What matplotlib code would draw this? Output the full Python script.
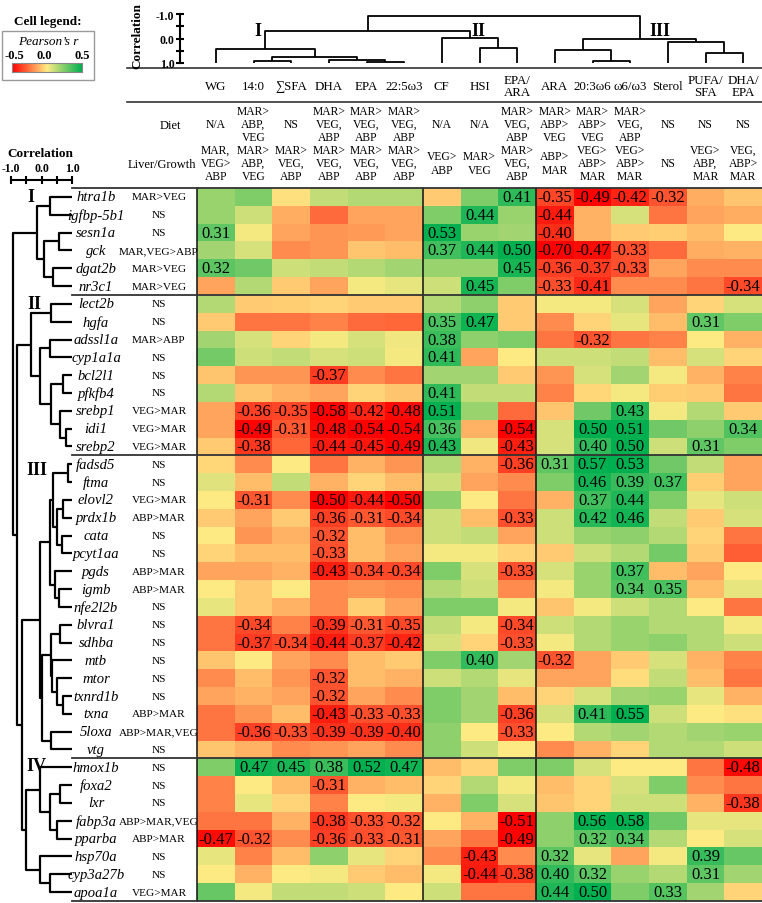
import numpy as np
import matplotlib.pyplot as plt
import matplotlib.transforms as mtransforms
from matplotlib.colors import LinearSegmentedColormap
from matplotlib.patches import Rectangle

plt.rcParams['font.family'] = ['Liberation Serif', 'DejaVu Serif']

# ---- data ----
traits = ['WG', '14:0', '∑SFA', 'DHA', 'EPA', '22:5ω3', 'CF', 'HSI', 'EPA/\nARA',
          'ARA', '20:3ω6', 'ω6/ω3', 'Sterol', 'PUFA/\nSFA', 'DHA/\nEPA']
diet = ['N/A', 'MAR>\nABP,\nVEG', 'NS', 'MAR>\nVEG,\nABP', 'MAR>\nVEG,\nABP', 'MAR>\nVEG,\nABP',
        'N/A', 'N/A', 'MAR>\nVEG,\nABP', 'MAR>\nABP>\nVEG', 'MAR>\nABP>\nVEG', 'MAR>\nVEG,\nABP',
        'NS', 'NS', 'NS']
liver_growth = ['MAR,\nVEG>\nABP', 'MAR>\nABP,\nVEG', 'MAR>\nVEG,\nABP', 'MAR>\nVEG,\nABP',
                'MAR>\nVEG,\nABP', 'MAR>\nVEG,\nABP', 'VEG>\nABP', 'MAR>\nVEG', 'MAR>\nVEG,\nABP',
                'ABP>\nMAR', 'VEG>\nABP>\nMAR', 'VEG>\nABP>\nMAR', 'NS', 'VEG>\nABP,\nMAR',
                'VEG,\nABP>\nMAR']

genes = ['htra1b', 'igfbp-5b1', 'sesn1a', 'gck', 'dgat2b', 'nr3c1',
         'lect2b', 'hgfa', 'adssl1a', 'cyp1a1a', 'bcl2l1', 'pfkfb4', 'srebp1', 'idi1', 'srebp2',
         'fadsd5', 'ftma', 'elovl2', 'prdx1b', 'cata', 'pcyt1aa', 'pgds', 'igmb', 'nfe2l2b',
         'blvra1', 'sdhba', 'mtb', 'mtor', 'txnrd1b', 'txna', '5loxa', 'vtg',
         'hmox1b', 'foxa2', 'lxr', 'fabp3a', 'pparba', 'hsp70a', 'cyp3a27b', 'apoa1a']
gene_effect = ['MAR>VEG', 'NS', 'NS', 'MAR,VEG>ABP', 'MAR>VEG', 'MAR>VEG',
               'NS', 'NS', 'MAR>ABP', 'NS', 'NS', 'NS', 'VEG>MAR', 'VEG>MAR', 'VEG>MAR',
               'NS', 'NS', 'VEG>MAR', 'ABP>MAR', 'NS', 'NS', 'ABP>MAR', 'ABP>MAR', 'NS',
               'NS', 'NS', 'NS', 'NS', 'NS', 'ABP>MAR', 'ABP>MAR,VEG', 'NS',
               'NS', 'NS', 'NS', 'ABP>MAR,VEG', 'ABP>MAR', 'NS', 'NS', 'VEG>MAR']

r_values = np.array([
    [0.20, 0.25, -0.02, 0.12, 0.15, 0.15, -0.07, 0.25, 0.41, -0.35, -0.49, -0.42, -0.32, -0.13, -0.08],
    [0.20, 0.10, -0.13, -0.27, -0.15, -0.15, 0.25, 0.44, 0.20, -0.44, -0.12, 0.08, -0.25, -0.15, -0.13],
    [0.31, 0.02, -0.15, -0.18, -0.17, -0.15, 0.53, 0.20, 0.18, -0.40, -0.12, -0.07, -0.06, -0.10, 0.00],
    [0.18, 0.08, -0.20, -0.18, -0.08, -0.10, 0.37, 0.44, 0.50, -0.70, -0.47, -0.33, -0.27, -0.13, -0.12],
    [0.32, 0.28, 0.10, 0.12, 0.15, 0.18, 0.20, 0.20, 0.45, -0.36, -0.37, -0.33, -0.15, -0.20, -0.20],
    [-0.15, 0.15, -0.07, -0.15, 0.02, 0.05, 0.10, 0.45, 0.25, -0.33, -0.41, -0.20, -0.20, -0.25, -0.34],
    [0.15, -0.07, -0.06, -0.05, -0.07, -0.07, 0.15, 0.22, -0.07, 0.02, 0.02, 0.08, -0.15, -0.05, 0.08],
    [-0.07, -0.25, -0.25, -0.22, -0.27, -0.28, 0.35, 0.47, -0.07, -0.20, -0.05, 0.05, -0.10, 0.31, 0.25],
    [0.18, 0.08, -0.05, 0.02, 0.08, 0.03, 0.38, 0.22, 0.25, -0.25, -0.32, -0.25, -0.22, 0.00, -0.12],
    [0.27, 0.10, 0.12, 0.08, 0.10, 0.02, 0.41, -0.15, 0.00, 0.10, 0.10, 0.12, -0.10, 0.08, -0.05],
    [-0.08, -0.18, -0.18, -0.37, -0.20, -0.25, 0.18, 0.18, -0.07, -0.18, 0.08, 0.18, 0.02, -0.12, -0.22],
    [0.15, -0.08, -0.12, -0.15, -0.05, -0.08, 0.41, 0.12, 0.12, -0.22, -0.04, 0.02, -0.06, -0.07, -0.25],
    [-0.15, -0.36, -0.35, -0.58, -0.42, -0.48, 0.51, 0.20, -0.27, -0.08, 0.28, 0.43, 0.02, 0.15, -0.07],
    [-0.15, -0.49, -0.31, -0.48, -0.54, -0.54, 0.36, -0.12, -0.54, 0.08, 0.50, 0.51, 0.28, 0.22, 0.34],
    [-0.07, -0.38, -0.28, -0.44, -0.45, -0.49, 0.43, 0.03, -0.43, 0.08, 0.40, 0.50, 0.10, 0.31, 0.25],
    [-0.04, -0.20, 0.00, -0.25, -0.12, -0.18, 0.15, -0.12, -0.36, 0.31, 0.57, 0.53, 0.28, 0.12, -0.15],
    [0.06, -0.10, 0.12, -0.12, -0.05, -0.10, 0.10, -0.15, -0.20, 0.25, 0.46, 0.39, 0.37, -0.06, -0.15],
    [0.00, -0.31, -0.20, -0.50, -0.44, -0.50, 0.22, 0.00, -0.25, -0.12, 0.37, 0.44, 0.25, 0.05, 0.10],
    [-0.07, -0.15, -0.07, -0.36, -0.31, -0.34, 0.10, -0.10, -0.33, 0.10, 0.42, 0.46, 0.12, -0.07, 0.08],
    [0.00, -0.18, -0.12, -0.32, -0.10, -0.18, 0.10, 0.12, -0.15, 0.10, 0.20, 0.22, 0.15, -0.05, -0.25],
    [-0.05, -0.10, -0.10, -0.33, -0.10, -0.15, 0.02, 0.02, -0.05, -0.07, 0.10, 0.15, 0.27, -0.07, -0.30],
    [-0.15, -0.15, -0.12, -0.43, -0.34, -0.34, 0.25, 0.08, -0.33, 0.08, 0.20, 0.37, -0.10, -0.15, 0.00],
    [0.00, -0.07, 0.00, -0.20, -0.18, -0.20, 0.15, 0.10, -0.20, 0.02, 0.20, 0.34, 0.35, -0.10, 0.05],
    [0.05, -0.07, -0.12, -0.20, -0.06, -0.15, 0.25, 0.25, 0.02, -0.08, 0.02, 0.10, 0.15, 0.00, -0.25],
    [-0.25, -0.34, -0.22, -0.39, -0.31, -0.35, 0.12, 0.02, -0.34, 0.10, 0.15, 0.20, 0.15, 0.15, 0.02],
    [-0.25, -0.37, -0.34, -0.44, -0.37, -0.42, 0.08, -0.05, -0.33, 0.02, 0.15, 0.20, 0.22, 0.15, 0.10],
    [-0.08, 0.00, -0.15, -0.20, -0.10, -0.07, 0.25, 0.40, 0.18, -0.32, -0.15, -0.07, 0.08, -0.12, -0.22],
    [-0.20, -0.10, -0.18, -0.32, -0.10, -0.12, 0.10, 0.15, 0.05, -0.15, -0.15, -0.03, 0.12, -0.10, -0.25],
    [-0.15, -0.12, -0.15, -0.32, -0.15, -0.20, 0.25, 0.18, -0.10, -0.05, 0.08, 0.18, 0.20, 0.05, -0.12],
    [-0.25, -0.18, -0.10, -0.43, -0.33, -0.33, 0.25, 0.18, -0.36, 0.08, 0.41, 0.55, 0.10, 0.00, -0.02],
    [-0.25, -0.36, -0.33, -0.39, -0.39, -0.40, 0.22, 0.00, -0.33, 0.00, 0.15, 0.18, 0.15, 0.18, 0.20],
    [-0.08, -0.12, -0.20, -0.18, -0.15, -0.20, 0.22, 0.10, 0.00, -0.20, -0.12, -0.05, 0.15, 0.15, 0.10],
    [0.25, 0.47, 0.45, 0.38, 0.52, 0.47, -0.10, -0.05, 0.25, 0.25, 0.08, 0.00, 0.00, -0.25, -0.48],
    [-0.22, 0.00, -0.10, -0.31, -0.12, -0.10, -0.05, 0.15, 0.02, -0.10, -0.05, 0.08, 0.25, -0.20, -0.25],
    [-0.22, 0.05, -0.05, -0.22, 0.00, 0.02, -0.12, 0.25, 0.08, -0.08, -0.05, 0.10, 0.10, -0.12, -0.38],
    [-0.25, -0.25, -0.12, -0.38, -0.33, -0.32, 0.00, -0.12, -0.51, 0.22, 0.56, 0.58, 0.28, 0.05, 0.05],
    [-0.47, -0.32, -0.20, -0.36, -0.33, -0.31, -0.15, -0.25, -0.49, 0.22, 0.32, 0.34, 0.15, 0.00, 0.08],
    [0.05, -0.22, -0.10, 0.22, 0.05, -0.05, -0.20, -0.43, -0.20, 0.32, 0.05, -0.15, 0.02, 0.39, 0.30],
    [0.00, -0.12, 0.00, 0.02, -0.07, -0.10, 0.02, -0.44, -0.38, 0.40, 0.32, 0.20, 0.15, 0.31, 0.18],
    [0.30, 0.02, 0.12, 0.12, 0.10, 0.00, 0.10, -0.25, -0.25, 0.44, 0.50, 0.25, 0.33, 0.18, -0.05],
])

# dendrograms: (left, right, correlation at join); leaves are indices
I_top = (0, ((1, 2, 0.90), (3, (4, 5, 0.96), 0.86), 0.74), 0.43)
II_top = (6, (7, 8, 0.39), -0.02)
III_top = ((9, (10, 11, 0.90), 0.47), (12, (13, 14, 0.59), 0.14), 0.02)
top_tree = ((I_top, II_top, -0.31), III_top, -0.92)

I_left = ((0, 1, 0.28), ((2, 3, 0.57), (4, 5, 0.38), 0.08), -0.15)
II_left = ((6, 7, 0.30), ((8, 9, 0.28), ((10, 11, 0.72), (12, (13, 14, 0.80), 0.62), 0.30), -0.05), -0.35)
III_left = ((((15, 16, 0.88), ((17, 18, 0.70), (19, 20, 0.68), 0.50), 0.38),
             (21, (22, 23, 0.58), 0.45), 0.28),
            (((24, 25, 0.60), (26, (27, (28, 29, 0.72), 0.50), 0.35), 0.30), (30, 31, 0.30), 0.00),
            -0.05)
IV_left = ((32, ((33, 34, 0.60), (35, 36, 0.50), 0.28), -0.05), (37, (38, 39, 0.28), -0.05), -0.50)
left_tree = (I_left, (II_left, (III_left, IV_left, -0.65), -0.80), -0.92)

group_rows = [5.5, 14.5, 31.5]
group_cols = [5.5, 8.5]

cmap = LinearSegmentedColormap.from_list('ryg', ['#FF0000', '#FFEB84', '#00B050'])

# ---- layout ----
W, H = 762, 904
fig = plt.figure(figsize=(W / 100, H / 100), dpi=100, facecolor='white')


def box(x0, y0, x1, y1):
    return [x0 / W, 1 - y1 / H, (x1 - x0) / W, (y1 - y0) / H]


ax0 = fig.add_axes([0, 0, 1, 1])
ax0.set_xlim(0, W)
ax0.set_ylim(H, 0)
ax0.axis('off')

HX0, HY0, HX1, HY1 = 197, 189, 762, 902
nrow, ncol = r_values.shape
colw = (HX1 - HX0) / ncol

# heatmap
ax_h = fig.add_axes(box(HX0, HY0, HX1, HY1))
ax_h.imshow(r_values, cmap=cmap, vmin=-0.5, vmax=0.5, aspect='auto', interpolation='nearest')
ax_h.axis('off')
for i in range(nrow):
    for j in range(ncol):
        v = r_values[i, j]
        if abs(v) >= 0.305:
            ax_h.text(j, i, f'{v:.2f}', ha='center', va='center', fontsize=12)

for x in [-0.5] + group_cols:
    ax_h.axvline(x, color='#111111', lw=1.1, clip_on=False)
for y in [-0.5] + group_rows + [nrow - 0.5]:
    ax_h.axhline(y, xmin=-(HX0 - 72) / (HX1 - HX0), xmax=1, color='#333333', lw=1.3, clip_on=False)

ax0.plot([127, W], [69, 69], color='#333333', lw=1.2)
ax0.plot([127, W], [103, 103], color='#333333', lw=1.2)

tr_col = mtransforms.blended_transform_factory(ax_h.transData, ax0.transData)
tr_row = mtransforms.blended_transform_factory(ax0.transData, ax_h.transData)

for j in range(ncol):
    ax0.text(j, 87, traits[j], transform=tr_col, ha='center', va='center', fontsize=9.3, linespacing=1.1)
    ax0.text(j, 125, diet[j], transform=tr_col, ha='center', va='center', fontsize=8.4, linespacing=1.15)
    ax0.text(j, 164, liver_growth[j], transform=tr_col, ha='center', va='center', fontsize=8.4, linespacing=1.15)
ax0.text(170, 126, 'Diet', ha='center', va='center', fontsize=9)
ax0.text(162, 165, 'Liver/Growth', ha='center', va='center', fontsize=9)

for i in range(nrow):
    ax0.text(96, i, genes[i], transform=tr_row, ha='center', va='center', fontsize=10.5, style='italic')
    ax0.text(159, i, gene_effect[i], transform=tr_row, ha='center', va='center', fontsize=8.1)


def draw_tree(ax, node, vertical_leaves):
    # returns (position, height)
    if isinstance(node, int):
        return node, 1.0
    a, b, h = node
    pa, ha_ = draw_tree(ax, a, vertical_leaves)
    pb, hb = draw_tree(ax, b, vertical_leaves)
    if vertical_leaves:
        xs, ys = [pa, pa, pb, pb], [ha_, h, h, hb]
    else:
        xs, ys = [ha_, h, h, hb], [pa, pa, pb, pb]
    ax.plot(xs, ys, color='black', lw=1.6 if not vertical_leaves else 1.3,
            solid_capstyle='butt', clip_on=False)
    return (pa + pb) / 2, h


# top dendrogram
ax_t = fig.add_axes(box(180, 15, HX1, 64))
ax_t.set_facecolor('none')
ax_t.set_xlim(-0.5 - (HX0 - 180) / colw, ncol - 0.5)
ax_t.set_ylim(1.0, -1.0)
draw_tree(ax_t, top_tree, True)
for s in ['top', 'right', 'bottom']:
    ax_t.spines[s].set_visible(False)
ax_t.spines['left'].set_linewidth(1.5)
ax_t.set_xticks([])
ax_t.set_yticks([-1, -0.5, 0, 0.5, 1])
ax_t.set_yticklabels(['-1.0', '', '0.0', '', '1.0'], fontweight='bold')
ax_t.tick_params(axis='y', direction='inout', length=6, width=1.5, labelsize=8.5, pad=1)
ax0.text(137, 36, 'Correlation', rotation=90, ha='center', va='center', fontsize=9.5, fontweight='bold')

# left dendrogram
ax_l = fig.add_axes(box(11, HY0, 72, HY1))
ax_l.set_facecolor('none')
ax_l.set_xlim(-1, 1)
ax_l.set_ylim(nrow - 0.5, -0.5)
draw_tree(ax_l, left_tree, False)
for s in ['left', 'right', 'bottom']:
    ax_l.spines[s].set_visible(False)
ax_l.spines['top'].set_position(('outward', 6))
ax_l.spines['top'].set_linewidth(1.5)
ax_l.xaxis.tick_top()
ax_l.set_yticks([])
ax_l.set_xticks([-1, -0.5, 0, 0.5, 1])
ax_l.set_xticklabels(['-1.0', '', '0.0', '', '1.0'], fontweight='bold')
ax_l.tick_params(axis='x', direction='inout', length=6, width=1.5, labelsize=8.5, pad=1)
ax0.text(40, 154, 'Correlation', ha='center', va='center', fontsize=9.5, fontweight='bold')

# cluster labels
for x, y, t in [(258, 32, 'I'), (478, 32, 'II'), (660, 32, 'III')]:
    ax0.text(x, y, t, ha='center', va='center', fontsize=13, fontweight='bold')
for x, y, t in [(31, 197, 'I'), (34, 305, 'II'), (37, 471, 'III'), (36, 767, 'IV')]:
    ax0.text(x, y, t, ha='center', va='center', fontsize=13, fontweight='bold')

# cell legend
ax0.add_patch(Rectangle((2, 32), 92, 49, fill=False, edgecolor='#999999', lw=1))
ax0.text(48, 22, 'Cell legend:', ha='center', va='center', fontsize=9.5, fontweight='bold')
ax0.text(48, 42, 'Pearson’s r', ha='center', va='center', fontsize=9.5, style='italic')
for x, t in [(14, '-0.5'), (44, '0.0'), (82, '0.5')]:
    ax0.text(x, 56, t, ha='center', va='center', fontsize=9, fontweight='bold')
ax_c = fig.add_axes(box(12, 64, 82, 73))
ax_c.imshow(np.linspace(-0.5, 0.5, 256)[None, :], cmap=cmap, vmin=-0.5, vmax=0.5, aspect='auto')
ax_c.set_xticks([])
ax_c.set_yticks([])
for s in ax_c.spines.values():
    s.set_edgecolor('#888888')
    s.set_linewidth(0.8)

fig.savefig('out.png', dpi=100)
